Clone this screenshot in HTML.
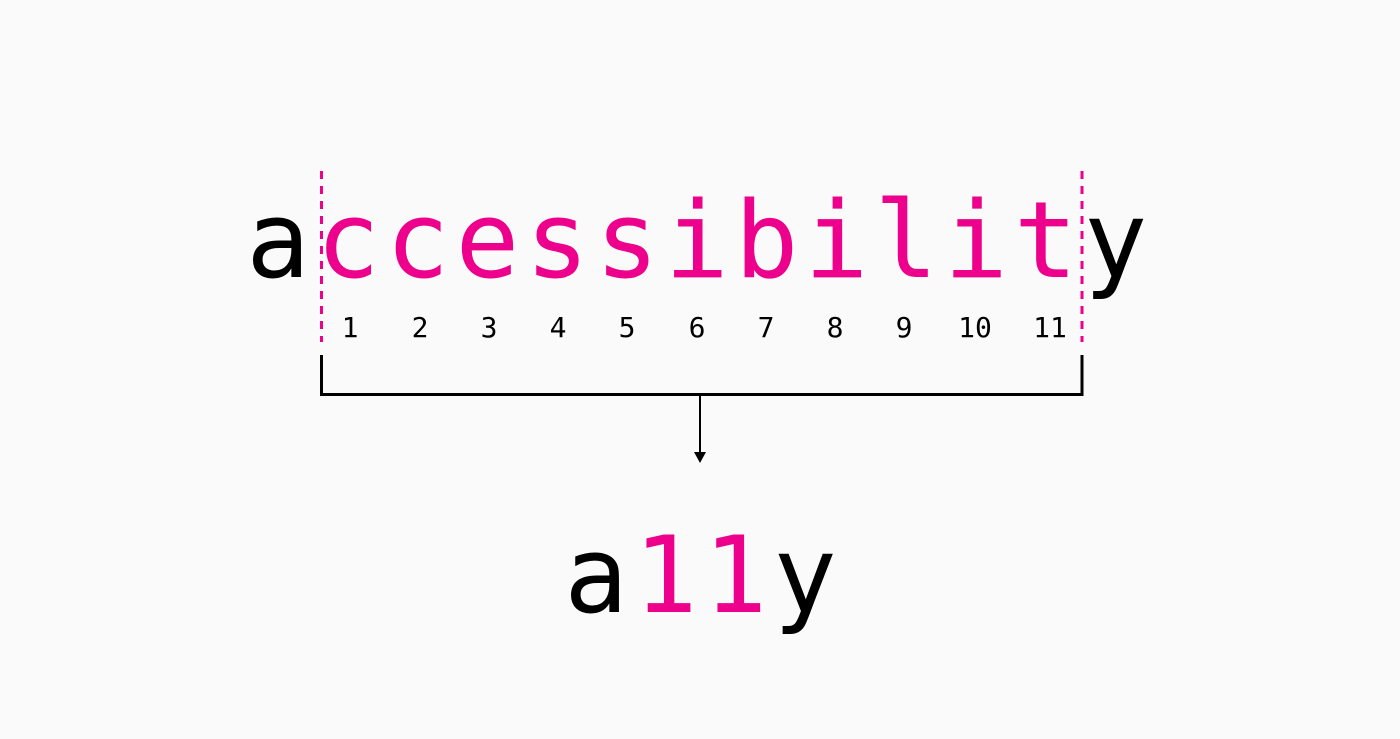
<!DOCTYPE html>
<html><head><meta charset="utf-8"><style>
html,body{margin:0;padding:0;background:#fafafa;}
svg{display:block;}
text{font-family:"DejaVu Sans Mono","Liberation Mono",monospace;}
</style></head><body>
<svg width="1400" height="739" viewBox="0 0 1400 739" xmlns="http://www.w3.org/2000/svg">
<rect width="1400" height="739" fill="#fafafa"/>
<g font-size="106" text-anchor="middle">
<text x="278" y="277" fill="#000">a</text>
<text x="348" y="277" fill="#ec008c">c</text>
<text x="417.6" y="277" fill="#ec008c">c</text>
<text x="487.4" y="277" fill="#ec008c">e</text>
<text x="557.2" y="277" fill="#ec008c">s</text>
<text x="627" y="277" fill="#ec008c">s</text>
<text x="696.8" y="277" fill="#ec008c">i</text>
<text x="766.6" y="277" fill="#ec008c">b</text>
<text x="836.4" y="277" fill="#ec008c">i</text>
<text x="906.2" y="277" fill="#ec008c">l</text>
<text x="976" y="277" fill="#ec008c">i</text>
<text x="1045.8" y="277" fill="#ec008c">t</text>
<text x="1115.6" y="277" fill="#000">y</text>
</g>
<g font-size="28" text-anchor="middle" fill="#000">
<text x="350" y="337">1</text>
<text x="420" y="337">2</text>
<text x="489" y="337">3</text>
<text x="558" y="337">4</text>
<text x="627" y="337">5</text>
<text x="697" y="337">6</text>
<text x="766" y="337">7</text>
<text x="835" y="337">8</text>
<text x="904" y="337">9</text>
<text x="975" y="337">10</text>
<text x="1050" y="337">11</text>
</g>
<line x1="321.5" y1="171" x2="321.5" y2="342" stroke="#ec008c" stroke-width="3" stroke-dasharray="8,7"/>
<line x1="1082" y1="171" x2="1082" y2="342" stroke="#ec008c" stroke-width="3" stroke-dasharray="8,7"/>
<polyline points="321.5,355 321.5,394.5 1082,394.5 1082,355" fill="none" stroke="#000" stroke-width="3"/>
<line x1="700" y1="395" x2="700" y2="455" stroke="#000" stroke-width="2"/>
<polygon points="694,452 706,452 700,463" fill="#000"/>
<g font-size="106" text-anchor="middle">
<text x="596" y="612" fill="#000">a</text>
<text x="665.7" y="612" fill="#ec008c">1</text>
<text x="735.4" y="612" fill="#ec008c">1</text>
<text x="805" y="612" fill="#000">y</text>
</g>
</svg>
</body></html>
